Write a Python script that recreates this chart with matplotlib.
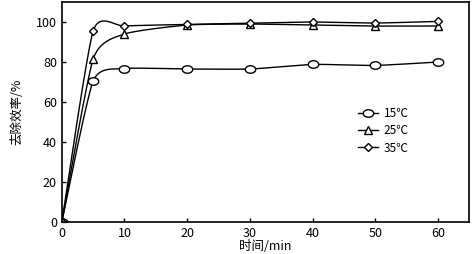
import numpy as np
import matplotlib
matplotlib.use("Agg")
import matplotlib.pyplot as plt
from matplotlib.path import Path

plt.rcParams['font.family'] = ['Noto Sans CJK SC', 'DejaVu Sans']

# data
t = [0, 5, 10, 20, 30, 40, 50, 60]
eff_15 = [0, 70.5, 76.7, 76.5, 76.5, 78.8, 78.3, 80]
eff_25 = [0, 81.5, 94, 98.5, 99, 98.5, 98, 98]
eff_35 = [0, 95.5, 98, 98.8, 99.5, 100, 99.5, 100.3]
labels = ["15℃", "25℃", "35℃"]

# squashed circle like the excel one
th = np.linspace(0, 2 * np.pi, 40)
ellipse = Path(np.column_stack([np.cos(th), 0.72 * np.sin(th)]), closed=True)
markers = [ellipse, "^", "D"]
msizes = [7.5, 5.5, 4]


def smooth(x, y, k=0.1, n=30):
    # smoothed line: bezier through the points, control pts from neighbours
    x = np.asarray(x, float)
    y = np.asarray(y, float)
    xs, ys = [], []
    for i in range(len(x) - 1):
        p0 = np.array([x[max(i - 1, 0)], y[max(i - 1, 0)]])
        p1 = np.array([x[i], y[i]])
        p2 = np.array([x[i + 1], y[i + 1]])
        p3 = np.array([x[min(i + 2, len(x) - 1)], y[min(i + 2, len(x) - 1)]])
        c1 = p1 + (p2 - p0) * k
        c2 = p2 - (p3 - p1) * k
        s = np.linspace(0, 1, n)[:, None]
        pts = ((1 - s) ** 3) * p1 + 3 * ((1 - s) ** 2) * s * c1 + 3 * (1 - s) * s ** 2 * c2 + s ** 3 * p2
        xs.append(pts[:, 0])
        ys.append(pts[:, 1])
    return np.concatenate(xs), np.concatenate(ys)


fig = plt.figure(figsize=(4.72, 2.54), dpi=100)
ax = fig.add_axes([0.131, 0.126, 0.863, 0.866])

for y, lab, m, ms in zip([eff_15, eff_25, eff_35], labels, markers, msizes):
    sx, sy = smooth(t, y)
    ax.plot(sx, sy, color="black", lw=1.0)
    ax.plot(t, y, linestyle="none", marker=m, ms=ms, mfc="white", mec="black", mew=1.0)
    ax.plot([], [], color="black", lw=1.0, marker=m, ms=ms, mfc="white", mec="black", label=lab)

ax.set_xlim(0, 65)
ax.set_ylim(0, 110)
ax.set_xticks([0, 10, 20, 30, 40, 50, 60])
ax.set_yticks([0, 20, 40, 60, 80, 100])
ax.tick_params(direction="in", length=3, labelsize=9, width=1)
for sp in ax.spines.values():
    sp.set_linewidth(1.2)
ax.set_xlabel("时间/min", fontsize=9, labelpad=0)
ax.set_ylabel("去除效率/%", fontsize=9, labelpad=9)

ax.legend(loc="upper left", bbox_to_anchor=(0.7, 0.57), frameon=False, fontsize=8.5,
          handlelength=1.7, labelspacing=0.35, handletextpad=0.5)

fig.savefig("out.png", dpi=100)
